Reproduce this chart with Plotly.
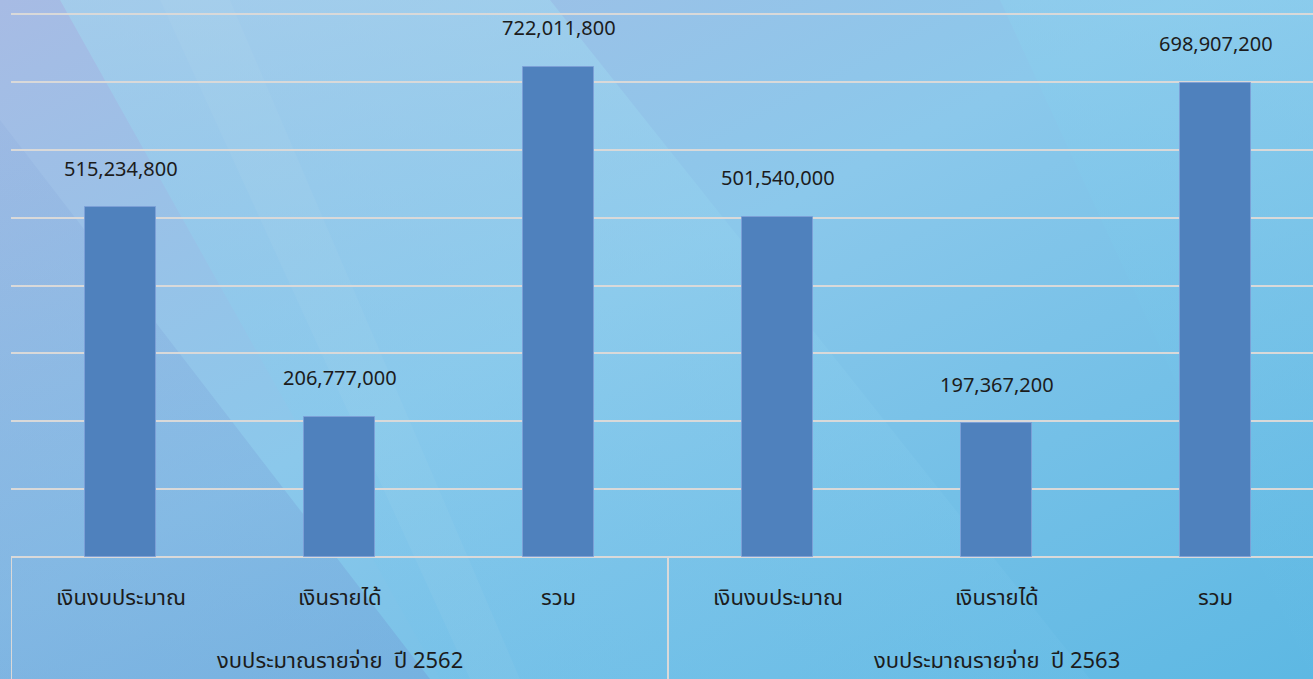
import base64
import plotly.graph_objects as go

# ---- data ----
groups = ["งบประมาณรายจ่าย\u00a0 ปี 2562", "งบประมาณรายจ่าย\u00a0 ปี 2563"]
categories = ["เงินงบประมาณ", "เงินรายได้", "รวม"]
values_2562 = [515234800, 206777000, 722011800]
values_2563 = [501540000, 197367200, 698907200]

all_values = values_2562 + values_2563
all_cats = categories + categories
xs = list(range(len(all_values)))

W, H = 1313, 679
ML, MR, MT, MB = 11, 0, 12, 122
PW, PH = W - ML - MR, H - MT - MB

FONT = "Tahoma, 'Leelawadee UI', 'Noto Sans Thai', 'Noto Sans', 'DejaVu Sans', sans-serif"

# background as svg
svg = f"""<svg xmlns='http://www.w3.org/2000/svg' width='{W}' height='{H}' viewBox='0 0 {W} {H}' preserveAspectRatio='none'>
<defs>
<linearGradient id='g' x1='0' y1='0' x2='1' y2='1'>
<stop offset='0' stop-color='#a7bbe4'/>
<stop offset='0.45' stop-color='#8bc8eb'/>
<stop offset='1' stop-color='#5db8e3'/>
</linearGradient>
<linearGradient id='b' x1='0' y1='0' x2='0' y2='1'>
<stop offset='0' stop-color='#a2d8f0' stop-opacity='0.55'/>
<stop offset='1' stop-color='#72c2ea' stop-opacity='0.25'/>
</linearGradient>
<linearGradient id='d' x1='0' y1='0' x2='0' y2='1'>
<stop offset='0' stop-color='#7a9ad4' stop-opacity='0.12'/>
<stop offset='1' stop-color='#6f94d2' stop-opacity='0.35'/>
</linearGradient>
<linearGradient id='r' x1='0' y1='0' x2='0' y2='1'>
<stop offset='0' stop-color='#8ed0ee' stop-opacity='0.5'/>
<stop offset='1' stop-color='#5fb9e4' stop-opacity='0.2'/>
</linearGradient>
</defs>
<rect width='{W}' height='{H}' fill='url(#g)'/>
<polygon points='1000,0 {W},0 {W},{H}' fill='url(#r)'/>
<polygon points='0,120 0,{H} 430,{H}' fill='url(#d)'/>
<polygon points='60,0 550,0 1090,{H} 440,{H}' fill='url(#b)'/>
<polygon points='160,0 230,0 520,{H} 470,{H}' fill='#ffffff' fill-opacity='0.04'/>
</svg>"""
bg_src = "data:image/svg+xml;base64," + base64.b64encode(svg.encode("utf-8")).decode("ascii")

fig = go.Figure()
fig.add_trace(go.Bar(
    x=xs, y=all_values, width=0.32,
    marker=dict(color="#4f81bd", line=dict(color="rgba(125,160,215,0.9)", width=1)),
    hoverinfo="skip", showlegend=False,
))

TXT = "#1c1c1c"
annotations = []
for x, v in zip(xs, all_values):
    annotations.append(dict(x=x, y=v, xref="x", yref="y", text=f"{v:,}", showarrow=False,
                            yshift=37.5, yanchor="middle",
                            font=dict(family=FONT, size=20, color=TXT)))
for x, c in zip(xs, all_cats):
    annotations.append(dict(x=x, y=0, xref="x", yref="y", text=c, showarrow=False,
                            yshift=-41, yanchor="middle",
                            font=dict(family=FONT, size=22, color=TXT)))
n = len(categories)
for gi, g in enumerate(groups):
    center = gi * n + (n - 1) / 2
    annotations.append(dict(x=center, y=0, xref="x", yref="y", text=g, showarrow=False,
                            yshift=-104, yanchor="middle",
                            font=dict(family=FONT, size=22, color=TXT)))

shapes = []
for gi in range(len(groups) + 1):
    xb = gi * n - 0.5
    shapes.append(dict(type="line", xref="x", yref="paper", x0=xb, x1=xb, y0=0, y1=-MB / PH,
                       line=dict(color="#d9d9d9", width=2), layer="above"))

cat_px = 219
fig.update_layout(
    width=W, height=H,
    margin=dict(l=ML, r=MR, t=MT, b=MB),
    paper_bgcolor="#86c2e8", plot_bgcolor="rgba(0,0,0,0)",
    bargap=0,
    images=[dict(source=bg_src, xref="paper", yref="paper",
                 x=-ML / PW, y=1 + MT / PH, sizex=W / PW, sizey=H / PH,
                 sizing="stretch", xanchor="left", yanchor="top", layer="below")],
    xaxis=dict(range=[-0.5, -0.5 + PW / cat_px], showgrid=False, zeroline=False,
               showticklabels=False, showline=False, fixedrange=True),
    yaxis=dict(range=[0, 8.03e8], dtick=1e8, tick0=0, showgrid=True, gridcolor="#d9d9d9", gridwidth=2,
               zeroline=True, zerolinecolor="#d9d9d9", zerolinewidth=2,
               showticklabels=False, showline=False, fixedrange=True),
    annotations=annotations,
    shapes=shapes,
    font=dict(family=FONT),
)

fig.write_html("out.html", config={"displayModeBar": False},
               post_script="document.body.style.margin='0';document.body.style.padding='0';")
